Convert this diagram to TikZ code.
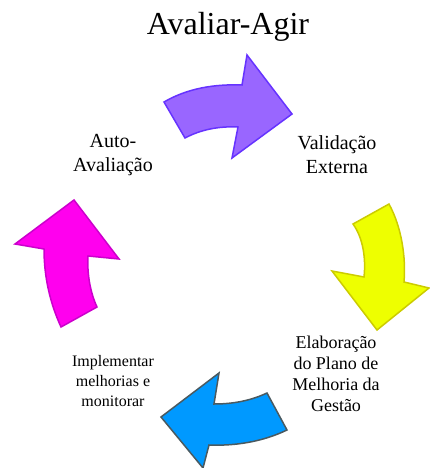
\documentclass[tikz,border=0pt]{standalone}
\usepackage{fontspec}
\setmainfont{LiberationSerif}[Extension=.ttf,UprightFont=*-Regular]
\newfontfamily\timesfont{LiberationSerif}[Extension=.ttf,UprightFont=*-Regular]
\definecolor{purplefill}{HTML}{9966FF}
\definecolor{purpleline}{HTML}{6633FF}
\definecolor{yellowfill}{HTML}{EEFF00}
\definecolor{yellowline}{HTML}{CCCC00}
\definecolor{bluefill}{HTML}{0099FF}
\definecolor{blueline}{HTML}{4A5A60}
\definecolor{magentafill}{HTML}{FF00EE}
\definecolor{magentaline}{HTML}{CC00CC}
\begin{document}
\begin{tikzpicture}
  [x=1pt,y=-1pt,line join=miter,every node/.style={align=center,inner sep=0pt}]
  \tikzstyle{arrow} = [line width=1.5pt]
  \tikzstyle{label} = [font=\timesfont\fontsize{20}{24}\selectfont]
  \useasboundingbox (0,0) rectangle (429,468);
  \node[font=\timesfont\fontsize{32}{36}\selectfont] (title) at (228,27) {Avaliar-Agir};
  \node[label] (auto) at (113,155) {Auto-\\Avaliação};
  \node[label] (valid) at (337,155) {Validação\\Externa};
  \node[font=\timesfont\fontsize{18}{21}\selectfont] (plano) at (336,374) {Elaboração\\do Plano de\\Melhoria da\\Gestão};
  \node[font=\timesfont\fontsize{16}{20}\selectfont] (impl) at (113,381) {Implementar\\melhorias e\\monitorar};

  % top
  \draw[arrow,fill=purplefill,draw=purpleline] (164,102) .. controls (188,88) and (215,84) .. (242,85)
    -- (247,55) -- (292,114) -- (232,158) -- (238,127) .. controls (218,126) and (200,130) .. (185,138) -- cycle;
  % right
  \draw[arrow,fill=yellowfill,draw=yellowline] (353,224) -- (389,204) .. controls (402,228) and (406,258) .. (404,282)
    -- (429,288) -- (377,330) -- (332,271) -- (364,277) .. controls (366,258) and (363,238) .. (353,224) -- cycle;
  % bottom
  \draw[arrow,fill=bluefill,draw=blueline] (267,393) -- (287,430) .. controls (262,442) and (235,446) .. (209,445)
    -- (203,468) -- (161,417) -- (219,373) -- (214,404) .. controls (235,404) and (252,400) .. (267,393) -- cycle;
  % left
  \draw[arrow,fill=magentafill,draw=magentaline] (61,327) -- (97,307) .. controls (90,292) and (87,273) .. (88,256)
    -- (119,259) -- (74,200) -- (15,244) -- (44,249) .. controls (44,277) and (50,303) .. (61,327) -- cycle;
\end{tikzpicture}
\end{document}
